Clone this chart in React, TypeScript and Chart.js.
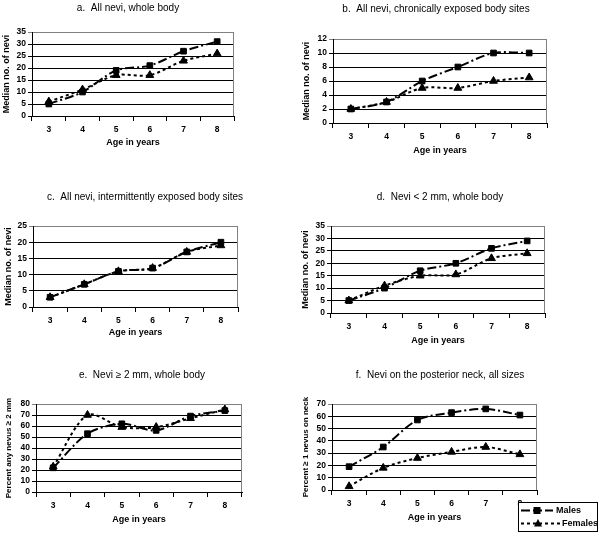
import { useEffect, useRef } from "react";
import { Chart, registerables } from "chart.js";

Chart.register(...registerables);

// ---------- data ----------
const ages = ["3", "4", "5", "6", "7", "8"];
const seriesNames = ["Males", "Females"];

const malesA = [5, 10, 19, 21, 27, 31];
const femalesA = [6, 11, 17, 17, 23, 26];
const malesB = [2, 3, 6, 8, 10, 10];
const femalesB = [2, 3, 5, 5, 6, 6.5];
const malesC = [3, 7, 11, 12, 17, 20];
const femalesC = [3, 7, 11, 12, 17, 19];
const malesD = [5, 10, 17, 20, 26, 29];
const femalesD = [5, 11, 15, 15.5, 22, 24];
const malesE = [22, 53, 62, 56, 69, 74];
const femalesE = [23, 70, 59, 59, 67, 75];
const malesF = [19, 35, 57, 63, 66, 61];
const femalesF = [3, 18, 26, 31, 35, 29];

const panelTitles = [
  "a.  All nevi, whole body",
  "b.  All nevi, chronically exposed body sites",
  "c.  All nevi, intermittently exposed body sites",
  "d.  Nevi < 2 mm, whole body",
  "e.  Nevi \u2265 2 mm, whole body",
  "f.  Nevi on the posterior neck, all sizes",
];
const yTitles = [
  "Median no. of nevi",
  "Median no. of nevi",
  "Median no. of nevi",
  "Median no. of nevi",
  "Percent any nevus \u2265 2 mm",
  "Percent \u2265 1 nevus on neck",
];
const xTitle = "Age in years";
const yMax = [35, 12, 25, 35, 80, 70];
const yStep = [5, 2, 5, 5, 10, 10];

const malesSeries = [malesA, malesB, malesC, malesD, malesE, malesF];
const femalesSeries = [femalesA, femalesB, femalesC, femalesD, femalesE, femalesF];

// ---------- layout (page pixels) ----------
type Lay = {
  cx: number; cy: number; cw: number; ch: number;
  l: number; r: number; t: number; b: number;
  tx: number; ty: number; xty: number; ytx: number; yFont: number;
};
const layouts: Lay[] = [
  { cx: 0, cy: 0, cw: 300, ch: 178, l: 32, r: 234, t: 32, b: 116, tx: 128, ty: 8, xty: 143, ytx: 7, yFont: 9 },
  { cx: 300, cy: 0, cw: 301, ch: 178, l: 333, r: 547, t: 39, b: 123, tx: 436, ty: 9, xty: 151, ytx: 307, yFont: 9 },
  { cx: 0, cy: 178, cw: 300, ch: 172, l: 33, r: 238, t: 226, b: 307, tx: 145, ty: 197, xty: 333, ytx: 9, yFont: 9 },
  { cx: 300, cy: 178, cw: 301, ch: 172, l: 331, r: 545, t: 226, b: 313, tx: 440, ty: 197, xty: 341, ytx: 306, yFont: 9 },
  { cx: 0, cy: 350, cw: 300, ch: 183, l: 36, r: 242, t: 404, b: 492, tx: 142, ty: 375, xty: 520, ytx: 9, yFont: 8 },
  { cx: 300, cy: 350, cw: 301, ch: 183, l: 332, r: 537, t: 404, b: 490, tx: 440, ty: 375, xty: 518, ytx: 306, yFont: 8 },
];

const FONT = '"Liberation Sans", Arial, sans-serif';
const maleDash = [9, 3, 2, 3];
const femaleDash = [3, 3];

const decorPlugin = {
  id: "decor",
  afterDraw(chart: any, _args: any, opts: any) {
    const ctx = chart.ctx as CanvasRenderingContext2D;
    const a = chart.chartArea;
    ctx.save();
    // right frame
    ctx.strokeStyle = "#808080";
    ctx.lineWidth = 1;
    ctx.beginPath();
    const rx = Math.round(a.right) - 0.5;
    ctx.moveTo(rx, Math.round(a.top));
    ctx.lineTo(rx, Math.round(a.bottom));
    ctx.stroke();
    // panel title
    ctx.fillStyle = "#000";
    ctx.font = `10px ${FONT}`;
    ctx.textAlign = "center";
    ctx.textBaseline = "middle";
    ctx.fillText(opts.text, opts.x, opts.y);
    // legend
    if (opts.legend) {
      const lx = opts.lx, ly = opts.ly, lw = opts.lw, lh = opts.lh;
      ctx.fillStyle = "#fff";
      ctx.fillRect(lx, ly, lw, lh);
      ctx.strokeStyle = "#000";
      ctx.lineWidth = 1;
      ctx.strokeRect(lx + 0.5, ly + 0.5, lw - 1, lh - 1);
      const rows = [
        { y: ly + 8.5, dash: [9, 3], end: lx + 35, mark: "rect", text: seriesNames[0], tx: lx + 38 },
        { y: ly + 21.5, dash: [3, 3], end: lx + 42, mark: "triangle", text: seriesNames[1], tx: lx + 44 },
      ];
      rows.forEach((row) => {
        ctx.strokeStyle = "#000";
        ctx.lineWidth = 2;
        ctx.setLineDash(row.dash);
        ctx.beginPath();
        ctx.moveTo(lx + 3, row.y);
        ctx.lineTo(row.end, row.y);
        ctx.stroke();
        ctx.setLineDash([]);
        ctx.fillStyle = "#000";
        const mx = row.mark === "rect" ? lx + 19 : lx + 20;
        if (row.mark === "rect") {
          ctx.fillRect(mx - 3.5, row.y - 3.5, 7, 7);
        } else {
          ctx.beginPath();
          ctx.moveTo(mx, row.y - 4.5);
          ctx.lineTo(mx + 4, row.y + 3);
          ctx.lineTo(mx - 4, row.y + 3);
          ctx.closePath();
          ctx.fill();
        }
        ctx.font = `bold 9px ${FONT}`;
        ctx.textAlign = "left";
        ctx.textBaseline = "middle";
        ctx.fillText(row.text, row.tx, row.y + 0.5);
      });
    }
    ctx.restore();
  },
};

function Panel({ i }: { i: number }) {
  const ref = useRef<HTMLCanvasElement>(null);
  const L = layouts[i];
  useEffect(() => {
    const titleLH = 9 * 1.2;
    const xH = L.xty + titleLH / 2 - L.b;
    const padBottom = L.cy + L.ch - L.b - xH;
    const yW = L.l - L.cx;
    const yTitlePad = Math.max(0, L.ytx - L.cx - (L.yFont * 1.2) / 2);
    const max = yMax[i];
    const chart = new Chart(ref.current as HTMLCanvasElement, {
      type: "line",
      data: {
        labels: ages,
        datasets: [
          {
            label: seriesNames[0],
            data: malesSeries[i],
            borderColor: "#000",
            backgroundColor: "#000",
            borderWidth: 2,
            borderDash: maleDash,
            pointStyle: "rect",
            pointRadius: 4,
            pointBorderWidth: 1,
            pointBackgroundColor: "#000",
            pointBorderColor: "#000",
            tension: 0.3,
            fill: false,
          },
          {
            label: seriesNames[1],
            data: femalesSeries[i],
            borderColor: "#000",
            backgroundColor: "#000",
            borderWidth: 2,
            borderDash: femaleDash,
            pointStyle: "triangle",
            pointRadius: 4.5,
            pointBorderWidth: 1,
            pointBackgroundColor: "#000",
            pointBorderColor: "#000",
            tension: 0.3,
            fill: false,
          },
        ],
      },
      options: {
        animation: false,
        responsive: false,
        devicePixelRatio: 1,
        layout: {
          padding: {
            left: 0,
            top: L.t - L.cy,
            right: L.cx + L.cw - L.r,
            bottom: padBottom,
          },
        },
        plugins: {
          legend: { display: false },
          tooltip: { enabled: false },
          title: { display: false },
          decor: {
            text: panelTitles[i],
            x: L.tx - L.cx,
            y: L.ty - L.cy,
            legend: i === 5,
            lx: 518 - L.cx,
            ly: 502 - L.cy,
            lw: 80,
            lh: 30,
          },
        } as any,
        scales: {
          x: {
            type: "category",
            offset: true,
            afterFit: (s: any) => {
              s.height = xH;
            },
            grid: {
              offset: true,
              drawOnChartArea: false,
              drawTicks: true,
              tickLength: 5,
              color: "#000",
              lineWidth: 1,
            },
            border: { display: true, color: "#000", width: 1 },
            ticks: {
              color: "#000",
              padding: 4,
              autoSkip: false,
              maxRotation: 0,
              font: { family: FONT, size: 8.5, weight: "bold" },
            },
            title: {
              display: true,
              text: xTitle,
              color: "#000",
              padding: { top: 0, bottom: 0 },
              font: { family: FONT, size: 9, weight: "bold", lineHeight: 1.2 },
            },
          },
          y: {
            min: 0,
            max: max,
            afterFit: (s: any) => {
              s.width = yW;
            },
            grid: {
              color: (c: any) => (c.tick && c.tick.value === max ? "#808080" : "#000"),
              lineWidth: 1,
              tickLength: 4,
            },
            border: { display: true, color: "#000", width: 1 },
            ticks: {
              stepSize: yStep[i],
              autoSkip: false,
              maxTicksLimit: 20,
              color: "#000",
              padding: 2,
              font: { family: FONT, size: 8.5, weight: "bold" },
            },
            title: {
              display: true,
              text: yTitles[i],
              color: "#000",
              padding: { top: yTitlePad, bottom: 0 },
              font: { family: FONT, size: L.yFont, weight: "bold", lineHeight: 1.2 },
            },
          },
        },
      },
      plugins: [decorPlugin],
    } as any);
    return () => chart.destroy();
  }, [i]);
  return (
    <canvas
      ref={ref}
      width={L.cw}
      height={L.ch}
      style={{ position: "absolute", left: L.cx, top: L.cy, width: L.cw, height: L.ch }}
    />
  );
}

export default function App() {
  return (
    <div
      style={{
        position: "absolute",
        left: 0,
        top: 0,
        width: 601,
        height: 533,
        background: "#fff",
        overflow: "hidden",
      }}
    >
      {layouts.map((_, i) => (
        <Panel key={i} i={i} />
      ))}
    </div>
  );
}
